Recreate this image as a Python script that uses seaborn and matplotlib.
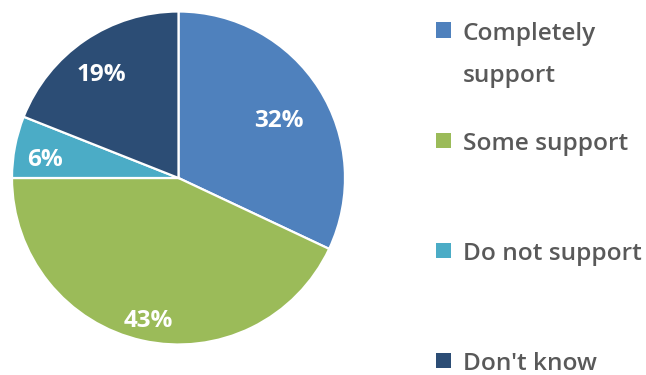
import matplotlib
matplotlib.use("Agg")
import matplotlib.pyplot as plt
from matplotlib.patches import Rectangle
import numpy as np
import seaborn as sns

# Survey responses
categories = ["Completely\nsupport", "Some support", "Do not support", "Don't know"]
shares = [32, 43, 6, 19]
colors = ["#4F81BD", "#9BBB59", "#4BACC6", "#2C4D75"]

sns.set_theme(style="white")
plt.rcParams["font.family"] = ["Open Sans", "DejaVu Sans"]
palette = sns.color_palette(colors)

W, H = 646, 375
fig = plt.figure(figsize=(W / 100, H / 100), dpi=100)

# pie axes placed in pixel units: centre (178.5, 178 from top), radius 166.5
cx, cy, r = 178.5, 178.0, 166.5
ax = fig.add_axes([(cx - r) / W, (H - cy - r) / H, 2 * r / W, 2 * r / H])

wedges, _ = ax.pie(
    shares,
    colors=palette,
    startangle=90,
    counterclock=False,
    radius=1.0,
    wedgeprops=dict(edgecolor="white", linewidth=1.6),
)
ax.set_xlim(-1, 1)
ax.set_ylim(-1, 1)
ax.set_aspect("equal")
ax.axis("off")

# percentage labels at a best-fit radius / angle nudge per wedge;
# baseline sits half a digit height below the anchor point
label_radius = [0.703, 0.861, 0.813, 0.786]
label_nudge_deg = [-1.6, 0.3, 2.3, 2.1]
half_digit = 8.5 / r
for w, val, lr, nd in zip(wedges, shares, label_radius, label_nudge_deg):
    mid = np.deg2rad((w.theta1 + w.theta2) / 2 + nd)
    ax.text(lr * np.cos(mid), lr * np.sin(mid) - half_digit, f"{val}%",
            ha="center", va="baseline", color="white",
            fontsize=17.5, fontweight="bold")

# legend drawn on the figure: square marker + label, first line centred on marker
legend_y = [30, 140, 250, 360]   # pixel rows from the top
sq = 15
line_step = 42
for lab, col, y in zip(categories, palette, legend_y):
    fig.add_artist(Rectangle((436 / W, (H - y - sq / 2) / H), sq / W, sq / H,
                             transform=fig.transFigure, facecolor=col,
                             edgecolor="none"))
    for i, line in enumerate(lab.split("\n")):
        fig.text(463 / W, (H - y - 10 - i * line_step) / H, line,
                 ha="left", va="baseline", color="#595959",
                 fontsize=17.6, fontweight="semibold")

fig.savefig("out.png", dpi=100)
